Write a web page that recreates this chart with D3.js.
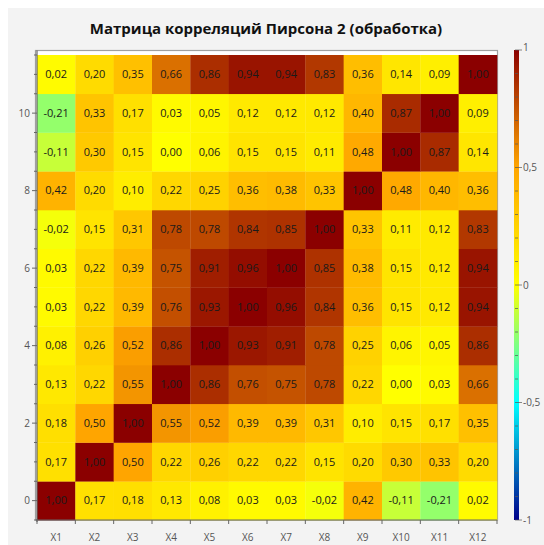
<!DOCTYPE html>
<html>
<head>
<meta charset="utf-8">
<script src="https://cdn.jsdelivr.net/npm/d3@7"></script>
<style>
  html, body { margin: 0; padding: 0; background: #ffffff; }
  svg { display: block; }
</style>
</head>
<body>
<script>
// ---- Data ----
const title = "Матрица корреляций Пирсона 2 (обработка)";
const categories = ["X1","X2","X3","X4","X5","X6","X7","X8","X9","X10","X11","X12"];
// rows listed from y = 0 (bottom) to y = 11 (top)
const row0  = [1.00, 0.17, 0.18, 0.13, 0.08, 0.03, 0.03, -0.02, 0.42, -0.11, -0.21, 0.02];
const row1  = [0.17, 1.00, 0.50, 0.22, 0.26, 0.22, 0.22, 0.15, 0.20, 0.30, 0.33, 0.20];
const row2  = [0.18, 0.50, 1.00, 0.55, 0.52, 0.39, 0.39, 0.31, 0.10, 0.15, 0.17, 0.35];
const row3  = [0.13, 0.22, 0.55, 1.00, 0.86, 0.76, 0.75, 0.78, 0.22, 0.00, 0.03, 0.66];
const row4  = [0.08, 0.26, 0.52, 0.86, 1.00, 0.93, 0.91, 0.78, 0.25, 0.06, 0.05, 0.86];
const row5  = [0.03, 0.22, 0.39, 0.76, 0.93, 1.00, 0.96, 0.84, 0.36, 0.15, 0.12, 0.94];
const row6  = [0.03, 0.22, 0.39, 0.75, 0.91, 0.96, 1.00, 0.85, 0.38, 0.15, 0.12, 0.94];
const row7  = [-0.02, 0.15, 0.31, 0.78, 0.78, 0.84, 0.85, 1.00, 0.33, 0.11, 0.12, 0.83];
const row8  = [0.42, 0.20, 0.10, 0.22, 0.25, 0.36, 0.38, 0.33, 1.00, 0.48, 0.40, 0.36];
const row9  = [-0.11, 0.30, 0.15, 0.00, 0.06, 0.15, 0.15, 0.11, 0.48, 1.00, 0.87, 0.14];
const row10 = [-0.21, 0.33, 0.17, 0.03, 0.05, 0.12, 0.12, 0.12, 0.40, 0.87, 1.00, 0.09];
const row11 = [0.02, 0.20, 0.35, 0.66, 0.86, 0.94, 0.94, 0.83, 0.36, 0.14, 0.09, 1.00];
const rows = [row0,row1,row2,row3,row4,row5,row6,row7,row8,row9,row10,row11];
const yTickLabels = [0, 2, 4, 6, 8, 10];
const colorbarTicks = [-1, -0.5, 0, 0.5, 1];
const colorStops = [-1, -0.5, 0, 0.5, 1];
const colorRange = ["#00008b", "#00ffff", "#ffff00", "#ffa500", "#8b0000"];

// ---- Setup ----
const W = 544, H = 545;
const svg = d3.select("body").append("svg").attr("width", W).attr("height", H);
const font = "'Open Sans', 'Noto Sans', sans-serif";

svg.append("rect").attr("x", 8).attr("y", 8).attr("width", W - 8).attr("height", H - 8)
  .attr("fill", "#f3f3f3");

svg.append("text").attr("x", 266).attr("y", 34).attr("text-anchor", "middle")
  .attr("font-family", font).attr("font-weight", "bold").attr("font-size", 15)
  .attr("fill", "#111").text(title);

const pLeft = 37, pRight = 497, pTop = 55, pBottom = 520;
const x = d3.scaleLinear().domain([-0.5, 11.5]).range([pLeft, pRight]);
const y = d3.scaleLinear().domain([-0.5, 11.5]).range([pBottom, pTop]);
const color = d3.scaleLinear().domain(colorStops).range(colorRange).clamp(true);

const fmt = v => d3.format(".2f")(v).replace("−", "-").replace(".", ",");

const cells = [];
rows.forEach((r, yi) => r.forEach((v, xi) => cells.push({xi, yi, v})));

// frame
svg.append("rect").attr("x", pLeft - 1.5).attr("y", 50.5).attr("width", pRight - pLeft + 2)
  .attr("height", pBottom - 50.5).attr("fill", "#ffffff").attr("stroke", "#a0a0a0").attr("stroke-width", 1.2);

const g = svg.append("g");
g.selectAll("rect.cell").data(cells).enter().append("rect")
  .attr("x", d => x(d.xi - 0.5))
  .attr("y", d => y(d.yi + 0.5))
  .attr("width", d => x(d.xi + 0.5) - x(d.xi - 0.5) + 0.3)
  .attr("height", d => y(d.yi - 0.5) - y(d.yi + 0.5) + 0.3)
  .attr("fill", d => color(d.v));

g.selectAll("text.val").data(cells).enter().append("text")
  .attr("x", d => x(d.xi))
  .attr("y", d => y(d.yi))
  .attr("dy", "0.35em")
  .attr("text-anchor", "middle")
  .attr("font-family", font).attr("font-size", 11)
  .attr("fill", "#1a1a1a")
  .text(d => fmt(d.v));

// Y axis
const yAxisG = svg.append("g").attr("font-family", font);
yAxisG.append("line").attr("x1", pLeft).attr("x2", pLeft).attr("y1", 50.5).attr("y2", pBottom + 2)
  .attr("stroke", "#666").attr("stroke-width", 1.2);
const yMinor = d3.range(-0.5, 11.51, 0.5);
yAxisG.selectAll("line.minor").data(yMinor).enter().append("line")
  .attr("x1", pLeft).attr("x2", d => yTickLabels.includes(d) ? pLeft - 5 : pLeft - 3)
  .attr("y1", d => y(d)).attr("y2", d => y(d))
  .attr("stroke", "#666").attr("stroke-width", 1);
yAxisG.selectAll("text").data(yTickLabels).enter().append("text")
  .attr("x", pLeft - 7).attr("y", d => y(d)).attr("dy", "0.35em")
  .attr("text-anchor", "end").attr("font-size", 10).attr("fill", "#555").text(d => d);

// X axis
const xAxisG = svg.append("g").attr("font-family", font);
xAxisG.append("line").attr("x1", pLeft - 1).attr("x2", pRight).attr("y1", pBottom).attr("y2", pBottom)
  .attr("stroke", "#666").attr("stroke-width", 1.2);
const xBounds = d3.range(-0.5, 11.51, 1);
xAxisG.selectAll("line.t").data(xBounds).enter().append("line")
  .attr("x1", d => x(d)).attr("x2", d => x(d)).attr("y1", pBottom).attr("y2", pBottom + 4)
  .attr("stroke", "#666").attr("stroke-width", 1);
xAxisG.selectAll("text").data(categories).enter().append("text")
  .attr("x", (d, i) => x(i)).attr("y", 541)
  .attr("text-anchor", "middle").attr("font-size", 10).attr("fill", "#555").text(d => d);

// Colorbar
const cbX = 514, cbW = 5, cbTop = 50, cbBot = 520;
const cy = d3.scaleLinear().domain([-1, 1]).range([cbBot, cbTop]);
const defs = svg.append("defs");
const grad = defs.append("linearGradient").attr("id", "cbgrad")
  .attr("x1", 0).attr("x2", 0).attr("y1", 1).attr("y2", 0);
colorStops.forEach((s, i) => grad.append("stop")
  .attr("offset", (s + 1) / 2).attr("stop-color", colorRange[i]));
svg.append("rect").attr("x", cbX).attr("y", cbTop).attr("width", cbW).attr("height", cbBot - cbTop)
  .attr("fill", "url(#cbgrad)");
const cbMinor = d3.range(-10, 11).map(k => k / 10);
svg.selectAll("line.cbm").data(cbMinor).enter().append("line")
  .attr("x1", cbX + 1).attr("x2", d => colorbarTicks.includes(d) ? cbX + cbW + 3 : cbX + 4)
  .attr("y1", d => cy(d)).attr("y2", d => cy(d))
  .attr("stroke", "#555").attr("stroke-width", 1).attr("stroke-opacity", 0.7);
svg.selectAll("text.cbl").data(colorbarTicks).enter().append("text")
  .attr("x", cbX + cbW + 4).attr("y", d => cy(d)).attr("dy", d => d === 1 ? "0.1em" : "0.35em")
  .attr("font-family", font).attr("font-size", 10).attr("fill", "#555")
  .text(d => String(d).replace(".", ","));
</script>
</body>
</html>
